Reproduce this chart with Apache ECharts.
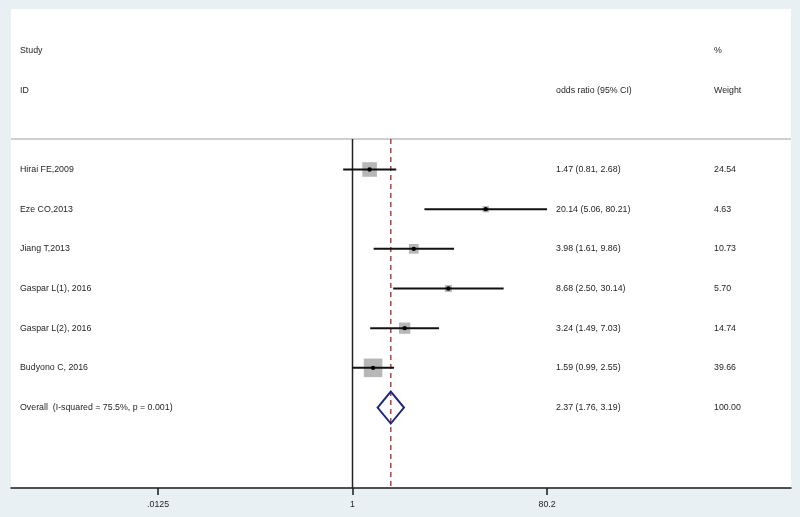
<!DOCTYPE html>
<html>
<head>
<meta charset="utf-8">
<script src="https://cdn.jsdelivr.net/npm/echarts@6/dist/echarts.min.js"></script>
<style>
  html, body { margin: 0; padding: 0; background: #e8f0f3; }
  #main { width: 800px; height: 517px; }
</style>
</head>
<body>
<div id="main"></div>
<script>
// study data (odds ratio, 95% CI, weight %)
var studies = ['Hirai FE,2009', 'Eze CO,2013', 'Jiang T,2013', 'Gaspar L(1), 2016', 'Gaspar L(2), 2016', 'Budyono C, 2016'];
var oddsRatio = [1.47, 20.14, 3.98, 8.68, 3.24, 1.59];
var ciLow = [0.81, 5.06, 1.61, 2.50, 1.49, 0.99];
var ciHigh = [2.68, 80.21, 9.86, 30.14, 7.03, 2.55];
var weights = [24.54, 4.63, 10.73, 5.70, 14.74, 39.66];

var overallLabel = 'Overall  (I-squared = 75.5%, p = 0.001)';
var overall = { or: 2.37, lo: 1.76, hi: 3.19, weight: 100.00 };

var tickValues = [0.0125, 1, 80.2];
var tickLabels = ['.0125', '1', '80.2'];

var log = Math.log10;
var firstRow = 4;       // row index of first study
var sepRow = 3.23;      // header separator
var xMin = -3.3425, xMax = 4.2918;
var yMin = -0.046, yMax = 12.029;

var FONT = '"Liberation Sans", Arial, sans-serif';
var TXT = '#1e1e1e';
var FS = 8.8;

// text columns (pixel x is layout only)
var colStudy = 20, colCI = 556, colW = 714;
var textItems = [
    { row: 1, x: colStudy, t: 'Study' },
    { row: 2, x: colStudy, t: 'ID' },
    { row: 1, x: colW, t: '%' },
    { row: 2, x: colCI, t: 'odds ratio (95% CI)' },
    { row: 2, x: colW, t: 'Weight' }
];
studies.forEach(function (s, i) {
    var r = firstRow + i;
    textItems.push({ row: r, x: colStudy, t: s });
    textItems.push({ row: r, x: colCI, t: oddsRatio[i].toFixed(2) + ' (' + ciLow[i].toFixed(2) + ', ' + ciHigh[i].toFixed(2) + ')' });
    textItems.push({ row: r, x: colW, t: weights[i].toFixed(2) });
});
var overallRow = firstRow + studies.length;
textItems.push({ row: overallRow, x: colStudy, t: overallLabel });
textItems.push({ row: overallRow, x: colCI, t: overall.or.toFixed(2) + ' (' + overall.lo.toFixed(2) + ', ' + overall.hi.toFixed(2) + ')' });
textItems.push({ row: overallRow, x: colW, t: overall.weight.toFixed(2) });

var studyData = studies.map(function (s, i) {
    return [log(oddsRatio[i]), log(ciLow[i]), log(ciHigh[i]), weights[i], firstRow + i];
});

var myChart = echarts.init(document.getElementById('main'));

var option = {
    backgroundColor: '#e8f0f3',
    animation: false,
    grid: {
        left: 11, right: 9, top: 9, bottom: 29,
        show: true, backgroundColor: '#ffffff', borderWidth: 0
    },
    xAxis: {
        type: 'value',
        position: 'bottom',
        min: xMin, max: xMax,
        splitLine: { show: false },
        axisLine: { onZero: false, lineStyle: { color: '#1a1a1a', width: 1.5 } },
        axisTick: {
            customValues: tickValues.map(log),
            length: 7,
            lineStyle: { color: '#1a1a1a', width: 1.5 }
        },
        axisLabel: {
            customValues: tickValues.map(log),
            margin: 12,
            fontSize: FS, fontFamily: FONT, color: TXT,
            formatter: function (v) {
                var best = 0;
                for (var i = 1; i < tickValues.length; i++) {
                    if (Math.abs(log(tickValues[i]) - v) < Math.abs(log(tickValues[best]) - v)) best = i;
                }
                return tickLabels[best];
            }
        }
    },
    yAxis: {
        type: 'value', min: yMin, max: yMax, inverse: true, show: false
    },
    series: [
        {
            // separator + reference lines
            type: 'custom',
            silent: true,
            data: [[0, 0]],
            renderItem: function (params, api) {
                var a = api.coord([xMin, sepRow]), b = api.coord([xMax, sepRow]);
                var n0 = api.coord([0, sepRow]), n1 = api.coord([0, yMax]);
                var o0 = api.coord([log(overall.or), sepRow]), o1 = api.coord([log(overall.or), yMax]);
                return {
                    type: 'group',
                    children: [
                        { type: 'line', shape: { x1: a[0], y1: a[1], x2: b[0], y2: b[1] }, style: { stroke: '#cfcfcf', lineWidth: 2 } },
                        { type: 'line', shape: { x1: n0[0], y1: n0[1], x2: n1[0], y2: n1[1] }, style: { stroke: '#222', lineWidth: 1.5 } },
                        { type: 'line', shape: { x1: o0[0], y1: o0[1], x2: o1[0], y2: o1[1] }, style: { stroke: '#ad4444', lineWidth: 1.5, lineDash: [5, 4] } }
                    ]
                };
            }
        },
        {
            // studies: weight squares, CI lines, point estimates
            type: 'custom',
            silent: true,
            data: studyData,
            renderItem: function (params, api) {
                var row = api.value(4);
                var c = api.coord([api.value(0), row]);
                var lo = api.coord([api.value(1), row]);
                var hi = api.coord([api.value(2), row]);
                var s = 2.95 * Math.sqrt(api.value(3));
                return {
                    type: 'group',
                    children: [
                        { type: 'rect', shape: { x: c[0] - s / 2, y: c[1] - s / 2, width: s, height: s }, style: { fill: '#b7b7b7' } },
                        { type: 'line', shape: { x1: lo[0], y1: lo[1], x2: hi[0], y2: hi[1] }, style: { stroke: '#111', lineWidth: 2 } },
                        { type: 'circle', shape: { cx: c[0], cy: c[1], r: 2.2 }, style: { fill: '#000' } }
                    ]
                };
            }
        },
        {
            // overall diamond
            type: 'custom',
            silent: true,
            data: [[log(overall.or), log(overall.lo), log(overall.hi), overallRow]],
            renderItem: function (params, api) {
                var row = api.value(3);
                var c = api.coord([api.value(0), row]);
                var lo = api.coord([api.value(1), row]);
                var hi = api.coord([api.value(2), row]);
                var h = 16;
                return {
                    type: 'polygon',
                    shape: { points: [[lo[0], c[1]], [c[0], c[1] - h], [hi[0], c[1]], [c[0], c[1] + h]] },
                    style: { fill: 'rgba(0,0,0,0)', stroke: '#22287a', lineWidth: 2 }
                };
            }
        },
        {
            // text columns
            type: 'custom',
            silent: true,
            data: textItems.map(function (t) { return [xMin, t.row]; }),
            renderItem: function (params, api) {
                var item = textItems[params.dataIndex];
                var p = api.coord([xMin, api.value(1)]);
                return {
                    type: 'text',
                    x: item.x, y: p[1],
                    style: {
                        text: item.t, fill: TXT, font: FS + 'px ' + FONT,
                        textAlign: 'left', textVerticalAlign: 'middle'
                    }
                };
            }
        }
    ]
};

myChart.setOption(option);
</script>
</body>
</html>
